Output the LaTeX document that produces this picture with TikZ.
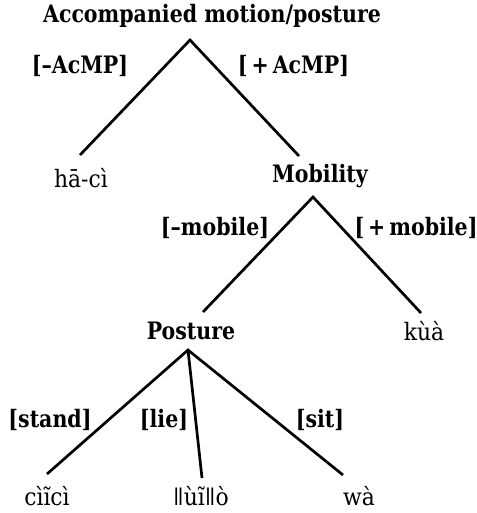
\documentclass[tikz,border=0pt]{standalone}
\usepackage{fontspec}
\setmainfont{DejaVu Serif}[FakeStretch=0.91,BoldFeatures={FakeStretch=0.855}]
\begin{document}
\begin{tikzpicture}[x=1pt,y=-1pt,
  every node/.style={inner sep=0pt,outer sep=0pt,anchor=base,font=\fontsize{24}{28}\selectfont},
  cat/.style={font=\fontsize{24}{28}\selectfont\bfseries},
  feat/.style={font=\fontsize{24}{28}\selectfont\bfseries},
  leaf/.style={font=\fontsize{24}{28}\selectfont},
  branch/.style={line width=2.7pt}]
\useasboundingbox (0,0) rectangle (476,513);
\node[cat] (root) at (212,23) {Accompanied motion/posture};
\node[leaf] (haci) at (81,187) {hā-cì};
\node[cat] (mob) at (320,182) {Mobility};
\node[cat] (post) at (191,339) {Posture};
\node[leaf] (kua) at (424,340) {kùà};
\node[leaf] (cici) at (47,505) {cìĩcì};
\node[leaf] (uio) at (201,505) {ǁùĩǁò};
\node[leaf] (wa) at (359,505) {wà};
\node[feat] (fAm) at (80,74) {[–AcMP]};
\node[feat] (fAp) at (293.5,74) {[\,+\,AcMP]};
\node[feat] (fMm) at (215,235) {[–mobile]};
\node[feat] (fMp) at (416,235) {[\,+\,mobile]};
\node[feat] (fst) at (50,427) {[stand]};
\node[feat] (fli) at (164,427) {[lie]};
\node[feat] (fsi) at (320,427) {[sit]};
\coordinate (rootB) at (190,40);
\coordinate (haciT) at (80,155);
\coordinate (mobT) at (299,156);
\coordinate (mobB) at (313,197);
\coordinate (postT) at (203,312);
\coordinate (kuaT) at (421,313);
\coordinate (postB) at (188,350);
\coordinate (ciciT) at (47,474);
\coordinate (uioT) at (202,478);
\coordinate (waT) at (343,475);
\draw[branch] (haciT) -- (rootB) -- (mobT);
\draw[branch] (postT) -- (mobB) -- (kuaT);
\draw[branch] (ciciT) -- (postB) -- (waT);
\draw[branch] (postB) -- (uioT);
\end{tikzpicture}
\end{document}
